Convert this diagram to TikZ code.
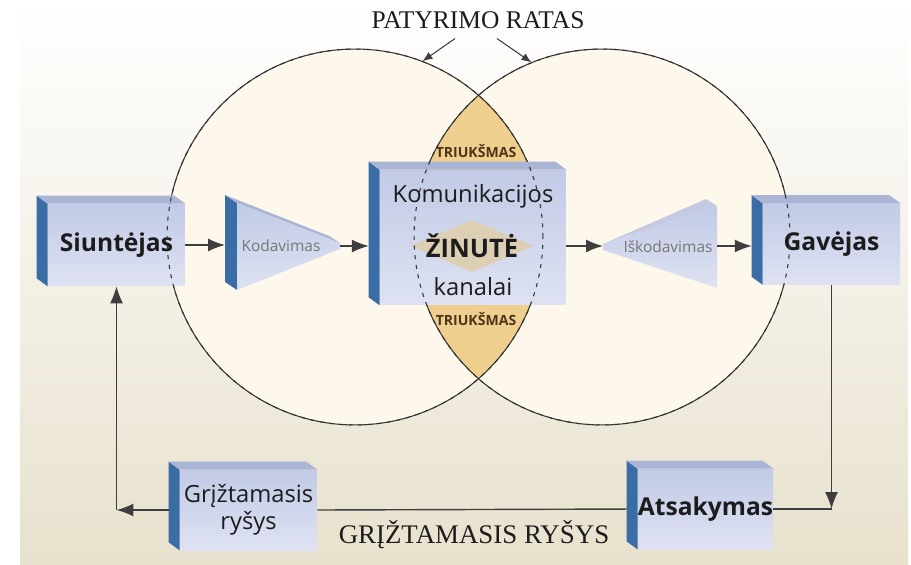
\documentclass[tikz,border=0pt]{standalone}
\usepackage{fontspec}
\setmainfont{Liberation Serif}
\setsansfont{Open Sans}
\usetikzlibrary{arrows.meta,calc,positioning,shapes.geometric}
\definecolor{paper}{HTML}{E8E1CD}
\definecolor{cream}{HTML}{FDF7EC}
\definecolor{noisefill}{HTML}{EFCF8E}
\definecolor{faceblue}{HTML}{C2CAE6}
\definecolor{facelight}{HTML}{DEE2F2}
\definecolor{topblue}{HTML}{AAB4D4}
\definecolor{sideblue}{HTML}{3A6CA6}
\definecolor{msgtan}{HTML}{DCCFB3}
\definecolor{ink}{HTML}{1C1C1C}
\tikzset{
  ring/.style={circle,minimum size=7.52cm,inner sep=0pt,fill=cream},
  rim/.style={draw=ink!90,line width=.6pt},
  rimdash/.style={rim,dash pattern=on 2.3pt off 3.2pt},
  box/.style={inner sep=0pt,align=center,text=ink,top color=faceblue,bottom color=facelight,
              font=\sffamily\bfseries\fontsize{14}{16}\selectfont},
  boxlight/.style={box,font=\sffamily\fontsize{13.5}{15.5}\selectfont},
  coder/.style={inner sep=0pt,text=ink!60,font=\sffamily\fontsize{8.8}{10}\selectfont},
  chan/.style={inner sep=0pt,anchor=base,text=ink,font=\sffamily\fontsize{13.5}{15}\selectfont},
  msgbg/.style={diamond,inner sep=0pt,minimum width=2.46cm,minimum height=1.04cm,fill=msgtan},
  msg/.style={inner sep=0pt,text=ink,font=\sffamily\bfseries\fontsize{14.5}{16}\selectfont},
  noisetext/.style={inner sep=0pt,anchor=base,text=brown!40!black,font=\sffamily\bfseries\fontsize{8}{9}\selectfont},
  title/.style={inner sep=0pt,anchor=base,text=ink},
  arr/.style={-{Latex[length=3.4mm,width=2.6mm]},line width=.8pt,draw=ink!85},
  pointer/.style={-{Latex[length=2mm,width=1.6mm]},line width=.6pt,draw=ink!85},
  plain/.style={line width=.8pt,draw=ink!85},
  toside/.style={shorten >=6.2pt}
}
\begin{document}
\begin{tikzpicture}[x=0.02cm,y=-0.02cm]
  \useasboundingbox (0,0) rectangle (911,564);
  \shade[top color=white,middle color=paper!50,bottom color=paper] (20,0) rectangle (908,564);

  % two fields of experience and the noise lens
  \node[ring] (lc) at (355,237) {};
  \node[ring] (rc) at (602,237) {};
  \begin{scope}
    \clip (lc.center) circle (3.76cm);
    \fill[noisefill] (rc.center) circle (3.76cm);
  \end{scope}
  \foreach \c in {lc,rc} \draw[rim] (\c.center) circle (3.76cm);

  \node[title,font=\fontsize{14.5}{16}\selectfont] (exp) at (478,29) {PATYRIMO RATAS};
  \draw[pointer] ([shift={(-23,9)}]exp.south) -- (lc.69);
  \draw[pointer] ([shift={(19,9)}]exp.south) -- (rc.112);

  % boxes
  \node[box,minimum width=2.74cm,minimum height=1.64cm] (sender) at (116.5,245) {Siuntėjas};
  \node[box,minimum width=3.72cm,minimum height=2.7cm] (cent) at (473,237.5) {};
  \node[box,minimum width=2.74cm,minimum height=1.62cm] (gav) at (831.5,244) {Gavėjas};
  \node[box,minimum width=2.7cm,minimum height=1.6cm] (atsak) at (705.5,509) {Atsakymas};
  \node[boxlight,minimum width=2.74cm,minimum height=1.6cm] (grizt) at (248.5,510) {Grįžtamasis\\ryšys};
  \foreach \b in {sender,cent,gav,atsak,grizt} {
    \fill[sideblue] (\b.north west) -- ++(-11,-8) -- ([shift={(-11,-8)}]\b.south west) -- (\b.south west) -- cycle;
    \fill[topblue] (\b.north west) -- ++(-11,-8) -- ([shift={(-11,-8)}]\b.north east) -- (\b.north east) -- cycle;
  }

  % coder and decoder
  \coordinate (kodL) at (225,245);
  \coordinate (kodR) at (340,246);
  \fill[sideblue] (225,195) -- (237,203) -- (237,290) -- (225,282) -- cycle;
  \fill[topblue] (225,195) -- (237,203) -- (340,243) -- (329,236) -- cycle;
  \shade[top color=faceblue,bottom color=facelight] (237,203) -- (340,243) -- (340,249) -- (237,290) -- cycle;
  \node[coder] (kod) at (281,246) {Kodavimas};

  \coordinate (iskL) at (603,246);
  \coordinate (iskR) at (717,246);
  \fill[topblue!70!white] (603,244) -- (706,199) -- (717,206) -- cycle;
  \shade[top color=faceblue,bottom color=facelight] (603,244) -- (717,206) -- (717,288) -- (603,250) -- cycle;
  \node[coder] (isk) at (668,247) {Iškodavimas};

  % channel contents
  \node[chan] (komu) at (473,202) {Komunikacijos};
  \node[msgbg] (dia) at (472,246) {};
  \node[msg] (zin) at (dia.center) {ŽINUTĖ};
  \node[chan] (kan) at (473,295) {kanalai};
  \node[noisetext] (tr1) at (476,157) {TRIUKŠMAS};
  \node[noisetext] (tr2) at (476,325) {TRIUKŠMAS};

  \foreach \c in {lc,rc} \draw[rimdash] (\c.center) circle (3.76cm);

  % message flow
  \draw[arr] (sender.east) -- (sender.east -| kodL);
  \draw[arr,toside] (kodR) -- (kodR -| cent.west);
  \draw[arr] (kodR -| cent.east) -- (iskL);
  \draw[arr,toside] (iskR) -- (iskR -| gav.west);

  % feedback loop
  \coordinate (cornerR) at (gav.south |- atsak.east);
  \coordinate (cornerL) at (sender.south |- grizt.west);
  \draw[arr] (gav.south) -- (cornerR);
  \draw[plain] (cornerR) -- (atsak.east);
  \draw[plain,shorten <=6.2pt] (atsak.west) -- (grizt.east);
  \draw[arr,shorten <=6.2pt] (grizt.west) -- (cornerL);
  \draw[arr] (cornerL) -- (sender.south);
  \node[title,font=\fontsize{15.3}{17}\selectfont] (fb) at (474,543) {GRĮŽTAMASIS RYŠYS};
\end{tikzpicture}
\end{document}
